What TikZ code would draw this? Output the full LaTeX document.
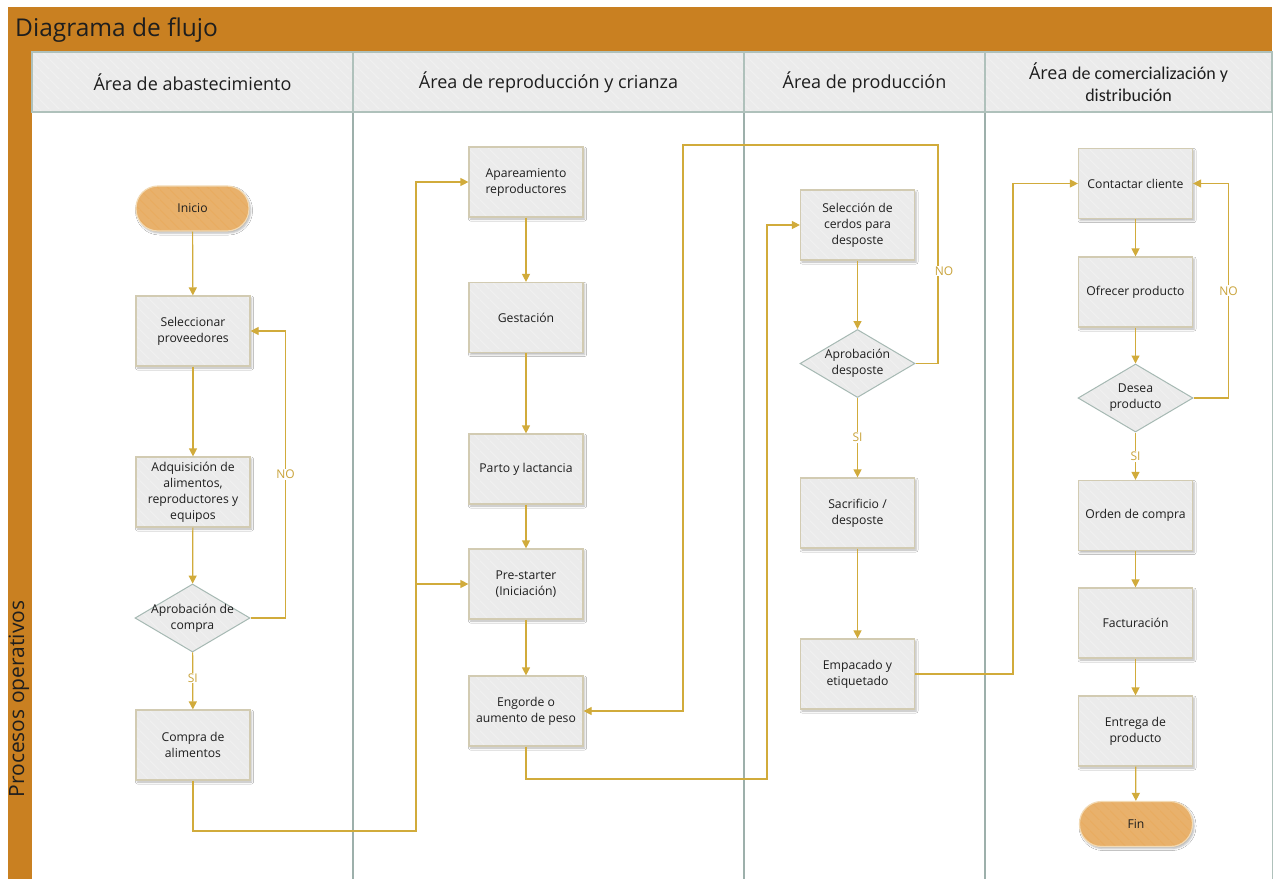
\documentclass[tikz,border=0pt]{standalone}
\usepackage{fontspec}
\setmainfont{Open Sans}
\newfontfamily\calfont{Carlito}
\usetikzlibrary{arrows.meta,shapes.geometric,shadows.blur,patterns.meta}

\definecolor{bandorange}{HTML}{C98021}
\definecolor{termfill}{HTML}{E8B16C}
\definecolor{termline}{HTML}{F2DAB4}
\definecolor{termhatch}{HTML}{EAAC5F}
\definecolor{boxfill}{HTML}{EBEBEB}
\definecolor{boxhatch}{HTML}{F1F1F1}
\definecolor{boxline}{HTML}{D2CBB2}
\definecolor{decline}{HTML}{A6B9B3}
\definecolor{laneline}{HTML}{9DB0AB}
\definecolor{headline}{HTML}{AFC1BB}
\definecolor{flowgold}{HTML}{D1AB3B}
\definecolor{lblgold}{HTML}{C9A33A}
\definecolor{txt}{HTML}{1E1E1E}

% light diagonal stripes used on the shapes
\tikzdeclarepattern{
  name=softhatch,
  type=uncolored,
  bounding box={(0pt,0pt) and (10pt,10pt)},
  tile size={(10pt,10pt)},
  line width=0.7pt,
  code={\draw (-1pt,11pt) -- (11pt,-1pt);}
}

\tikzset{
  softshadow/.style={blur shadow={shadow xshift=1.5pt, shadow yshift=-2pt,
    shadow blur radius=2pt, shadow opacity=30}},
  procbox/.style={rectangle, minimum width=114pt, minimum height=70pt,
    softshadow, preaction={fill=boxfill},
    pattern=softhatch, pattern color=boxhatch,
    draw=boxline, line width=1.2pt, text=txt, align=center,
    inner sep=2pt, font=\fontsize{12.2}{16}\selectfont},
  termbox/.style={rectangle, rounded corners=22pt, minimum width=113pt, minimum height=45pt,
    softshadow, preaction={fill=termfill},
    pattern=softhatch, pattern color=termhatch,
    draw=termline, line width=1.2pt, text=txt, align=center,
    font=\fontsize{12.2}{16}\selectfont},
  decbox/.style={diamond, minimum width=115pt, minimum height=68pt, inner sep=0pt,
    preaction={fill=boxfill}, pattern=softhatch, pattern color=boxhatch,
    draw=decline, line width=1pt},
  dectext/.style={text=txt, align=center, inner sep=0pt, font=\fontsize{12.2}{16}\selectfont},
  lanehead/.style={rectangle, minimum height=60pt,
    preaction={fill=boxfill}, pattern=softhatch, pattern color=boxhatch,
    draw=headline, line width=1.2pt,
    text=txt, align=center, font=\fontsize{18}{22}\selectfont},
  flow/.style={draw=flowgold, line width=1.2pt, -{Triangle[length=8pt,width=8pt]}},
  lbl/.style={fill=white, text=lblgold, inner sep=1pt, font=\fontsize{12}{14}\selectfont},
  lane/.style={draw=laneline, line width=1.5pt}
}

\begin{document}
\begin{tikzpicture}[x=1pt, y=-1pt]
% canvas
\fill[white] (0,0) rectangle (1281,879);
\useasboundingbox (0,0) rectangle (1281,879);

% title band and left pool strip
\fill[bandorange] (8,7) rectangle (1272,52);
\node[anchor=west, text=txt, font=\fontsize{24.5}{28}\selectfont, inner sep=0pt] (title) at (15,30) {Diagrama de flujo};
\fill[bandorange] (8,52) rectangle (32,879);
\node[rotate=90, text=txt, font=\fontsize{21}{24}\selectfont, inner sep=0pt] (pool) at (19,699) {Procesos operativos};

% lane separators
\draw[lane] (353,112) -- (353,879);
\draw[lane] (744,112) -- (744,879);
\draw[lane] (985,112) -- (985,879);
\draw[draw=headline, line width=1pt] (1272,112) -- (1272,879);

% lane headers
\node[lanehead, minimum width=321pt] (h1) at (192.5,82) {Área de abastecimiento};
\node[lanehead, minimum width=391pt] (h2) at (548.5,82) {Área de reproducción y crianza};
\node[lanehead, minimum width=241pt] (h3) at (864.5,82) {Área de producción};
\node[lanehead, minimum width=287pt] (h4) at (1128.5,82) {Área {\calfont de comercialización y}\\{\calfont distribución}};

% supply lane
\node[termbox] (a0) at (192.5,208.5) {Inicio};
\node[procbox] (a1) at (193,331) {Seleccionar\\proveedores};
\node[procbox] (a2) at (193,492) {Adquisición de\\alimentos,\\reproductores y\\equipos};
\node[decbox] (a3) at (192.5,618) {};
\node[dectext] (a3t) at (a3) {Aprobación de\\compra};
\node[procbox] (a4) at (193,745) {Compra de\\alimentos};

% breeding lane
\node[procbox] (b1) at (526,182) {Apareamiento\\reproductores};
\node[procbox] (b2) at (526,317.5) {Gestación};
\node[procbox] (b3) at (526,469) {Parto y lactancia};
\node[procbox] (b4) at (526,584) {Pre-starter\\(Iniciación)};
\node[procbox] (b5) at (526,711) {Engorde o\\aumento de peso};

% production lane
\node[procbox] (c1) at (857.5,225) {Selección de\\cerdos para\\desposte};
\node[decbox] (c2) at (857.5,363.5) {};
\node[dectext] (c2t) at (c2) {Aprobación\\desposte};
\node[procbox] (c3) at (857.5,513) {Sacrificio /\\desposte};
\node[procbox] (c4) at (857.5,674) {Empacado y\\etiquetado};

% sales lane
\node[procbox] (d1) at (1135.5,183.5) {Contactar cliente};
\node[procbox] (d2) at (1135.5,292) {Ofrecer producto};
\node[decbox] (d3) at (1135.5,398) {};
\node[dectext] (d3t) at (d3) {Desea\\producto};
\node[procbox] (d4) at (1135.5,515.5) {Orden de compra};
\node[procbox] (d5) at (1135.5,623) {Facturación};
\node[procbox] (d6) at (1135.5,731) {Entrega de\\producto};
\node[termbox] (d7) at (1136,824) {Fin};

% routing points
\coordinate (j1) at (416,831);
\coordinate (j2) at (767,779);
\coordinate (j3) at (1013,674);
\coordinate (k1) at (938,145);
\coordinate (k2) at (683,145);

% supply flow
\draw[flow] (a0) -- (a1);
\draw[flow] (a1) -- (a2);
\draw[flow] (a2) -- (a3);
\draw[flow] (a3.east) -- ++(35,0) |- node[pos=0.25, lbl] {NO} (a1.east);
\draw[flow] (a3) -- node[pos=0.45, lbl] {SI} (a4);
\draw[flow] (a4.south) |- (j1) |- (b1.west);
\draw[flow] (j1) |- (b4.west);

% breeding flow
\draw[flow] (b1) -- (b2);
\draw[flow] (b2) -- (b3);
\draw[flow] (b3) -- (b4);
\draw[flow] (b4) -- (b5);
\draw[flow] (b5.south) |- (j2) |- (c1.west);

% production flow
\draw[flow] (c1) -- (c2);
\draw[flow] (c2.east) -| (k1) -- (k2) |- (b5.east);
\node[lbl] (c2no) at (944,271) {NO};
\draw[flow] (c2) -- node[pos=0.5, lbl] {SI} (c3);
\draw[flow] (c3) -- (c4);
\draw[flow] (c4.east) -- (j3) |- (d1.west);

% sales flow
\draw[flow] (d1) -- (d2);
\draw[flow] (d2) -- (d3);
\draw[flow] (d3.east) -- ++(35,0) |- node[pos=0.25, lbl] {NO} (d1.east);
\draw[flow] (d3) -- node[pos=0.5, lbl] {SI} (d4);
\draw[flow] (d4) -- (d5);
\draw[flow] (d5) -- (d6);
\draw[flow] (d6) -- (d7);
\end{tikzpicture}
\end{document}
